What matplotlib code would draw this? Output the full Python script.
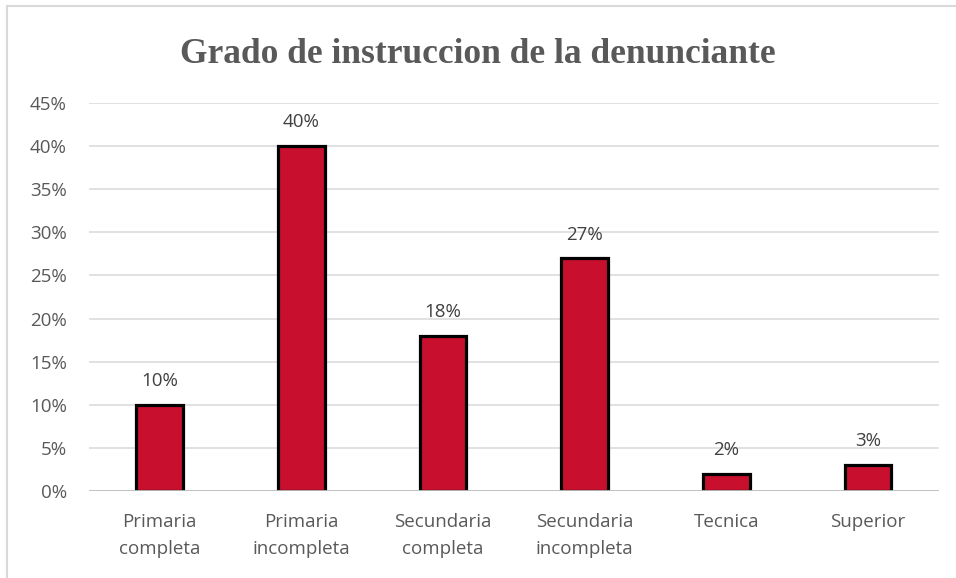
import matplotlib.pyplot as plt
from matplotlib.lines import Line2D
from matplotlib.ticker import FuncFormatter

# datos
categorias = ['Primaria\ncompleta', 'Primaria\nincompleta', 'Secundaria\ncompleta',
              'Secundaria\nincompleta', 'Tecnica', 'Superior']
porcentajes = [10, 40, 18, 27, 2, 3]
etiquetas = ['10%', '40%', '18%', '27%', '2%', '3%']
yticks = [0, 5, 10, 15, 20, 25, 30, 35, 40, 45]

gris = '#595959'
rojo = '#C8102E'

fig = plt.figure(figsize=(9.56, 5.78), dpi=100)
ax = fig.add_axes([0.093, 0.1505, 0.889, 0.6713])

# marco del grafico (solo arriba e izquierda)
fig.lines.append(Line2D([7/956, 1], [1 - 6/578, 1 - 6/578], transform=fig.transFigure,
                        color='#D9D9D9', linewidth=1.5))
fig.lines.append(Line2D([7/956, 7/956], [0, 1 - 6/578], transform=fig.transFigure,
                        color='#D9D9D9', linewidth=1.5))

x = range(len(categorias))
ax.bar(x, porcentajes, width=0.33, color=rojo, edgecolor='black', linewidth=2.3, zorder=3)
for i, v in enumerate(porcentajes):
    ax.text(i, v + 1.7, etiquetas[i], ha='center', va='bottom', fontsize=13.5,
            color='#404040', family='Open Sans')

ax.set_xlim(-0.5, len(categorias) - 0.5)
ax.set_ylim(0, 45)
ax.set_yticks(yticks)
ax.yaxis.set_major_formatter(FuncFormatter(lambda v, p: '%d%%' % v))
ax.set_xticks(list(x))
ax.set_xticklabels(categorias, fontsize=13.5, color=gris, family='Open Sans', linespacing=1.6)
for t in ax.get_yticklabels():
    t.set_fontsize(13.5)
    t.set_color(gris)
    t.set_family('Open Sans')

ax.grid(axis='y', color='#D9D9D9', linewidth=1.1, zorder=0)
ax.axhline(0, color='#BFBFBF', linewidth=1.3, zorder=4)
for s in ax.spines.values():
    s.set_visible(False)
ax.tick_params(axis='both', length=0)
ax.tick_params(axis='x', pad=16)
ax.tick_params(axis='y', pad=16)

fig.text(0.5, 0.905, 'Grado de instruccion de la denunciante', ha='center', va='center',
         fontsize=25.5, fontweight='bold', color=gris, family='Liberation Serif')

fig.savefig('out.png', dpi=100)
